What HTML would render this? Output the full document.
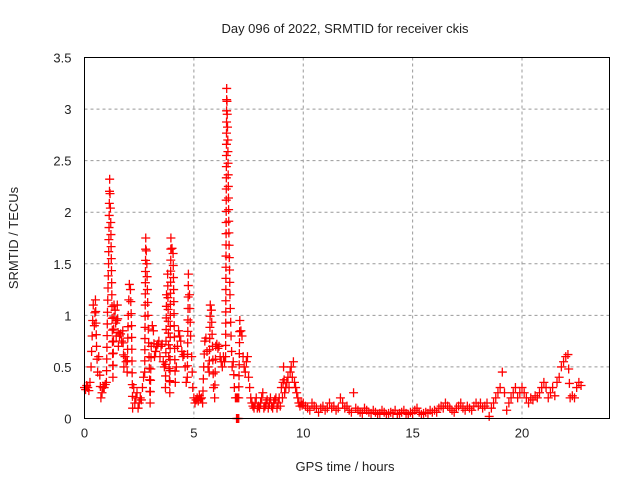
<!DOCTYPE html>
<html><head><meta charset="utf-8"><style>
body{margin:0;background:#fff;}
svg text{font-family:"Liberation Sans",sans-serif;font-size:13px;fill:#222;}
</style></head><body>
<svg id="chart" width="640" height="480" viewBox="0 0 640 480" xmlns="http://www.w3.org/2000/svg">
<rect width="640" height="480" fill="#fff"/>
<text x="345" y="33" text-anchor="middle">Day 096 of 2022, SRMTID for receiver ckis</text>
<text x="345" y="471" text-anchor="middle">GPS time / hours</text>
<text x="18" y="238" text-anchor="middle" transform="rotate(-90 18 238)">SRMTID / TECUs</text>
<g id="grid"></g><g id="ticks"></g><g id="marks"></g>
<rect x="84.5" y="57.5" width="525" height="361" fill="none" stroke="#000" stroke-width="1"/>
</svg>
<script>
const xTicks=[0,5,10,15,20];
const yTicks=[0,0.5,1,1.5,2,2.5,3,3.5];
const yTickLabels=["0","0.5","1","1.5","2","2.5","3","3.5"];
const segStarts=[0,10];
const segSteps=[0.05,0.1];
const zeroClusterTimes=[6.95,7.0,7.05];
const zeroClusterValues=[0,0,0];
const valuesEarly=[0.3,0.28,0.32,0.3,0.27,0.35,
0.5,0.8,1.1,0.9,1.15,0.7,
0.45,0.6,0.42,
0.2,0.25,0.3,
0.3,0.33,0.35,1.03,
1.5,2.32,1.9,1.2,
0.4,1.1,1.05,0.8,1.1,0.7,
0.8,0.82,0.75,0.85,
0.5,0.6,0.55,0.45,1.0,
1.3,1.25,0.9,
0.1,0.3,0.15,0.2,0.25,0.1,0.15,0.2,0.18,0.3,
0.4,0.45,1.75,1.5,1.0,0.6,0.15,
0.7,0.9,0.85,0.6,0.65,0.7,0.72,0.75,0.6,0.7,0.72,0.55,
0.5,0.3,1.2,1.4,0.6,
0.25,1.75,1.65,1.6,0.9,
0.35,0.5,0.7,0.85,0.8,0.75,
0.65,0.6,0.62,0.5,0.35,0.4,
1.4,1.2,0.8,0.6,0.3,
0.2,0.15,0.18,0.2,0.17,0.22,0.19,0.2,0.15,
0.5,0.75,0.78,0.65,0.5,0.45,1.1,1.05,0.7,0.3,0.2,
0.7,0.72,0.68,0.7,0.6,0.55,0.5,0.6,0.55,0.6,
3.2,2.7,1.8,1.2,0.8,0.5,0.55,
0.3,0.2,0.2,0.2,0.2,
0.95,0.85,0.8,0.6,0.5,0.45,0.55,0.6,0.4,
0.3,0.2,0.15,0.12,0.1,0.15,0.2,0.1,0.12,0.1,
0.15,0.2,0.25,0.1,0.12,0.15,0.18,0.1,0.15,0.2,0.12,0.1,0.15,0.18,0.2,0.1,0.15,0.2,0.12,
0.3,0.2,0.5,0.25,0.3,0.35,0.4,0.3,0.45,0.5,0.4,0.55,0.35,0.3,0.25,0.2,0.15,0.12,0.15,0.13];
const valuesLate=[0.15,0.12,0.1,0.08,0.15,0.12,0.1,0.06,0.1,0.12,0.08,0.1,0.15,0.1,0.12,0.08,0.1,0.2,0.15,0.1,
0.12,0.08,0.06,0.25,0.1,0.08,0.06,0.05,0.1,0.08,0.06,0.05,0.08,0.06,0.04,0.05,0.08,0.06,0.04,0.05,
0.06,0.05,0.08,0.04,0.05,0.06,0.08,0.05,0.04,0.06,0.05,0.08,0.1,0.06,0.04,0.05,0.06,0.05,0.08,0.06,
0.08,0.06,0.1,0.12,0.1,0.15,0.12,0.1,0.08,0.06,0.1,0.12,0.15,0.1,0.08,0.12,0.1,0.08,0.12,0.15,
0.12,0.15,0.1,0.12,0.15,0.02,0.1,0.15,0.2,0.25,0.3,0.45,0.25,0.08,0.15,0.2,0.25,0.3,0.2,0.25,
0.3,0.25,0.2,0.15,0.2,0.18,0.22,0.2,0.25,0.3,0.35,0.3,0.2,0.25,0.3,0.22,0.35,0.4,0.5,0.55,
0.6,0.62,0.2,0.22,0.2,0.3,0.35,0.32];
const NS="http://www.w3.org/2000/svg";
const X0=84.5,X1=609.5,Y0=418.5,Y1=57.5,XMAX=24,YMAX=3.5;
function xs(t){return X0+(t/XMAX)*(X1-X0);}
function ys(v){return Y0-(v/YMAX)*(Y0-Y1);}
function mk(tag,attrs,parent){const e=document.createElementNS(NS,tag);for(const k in attrs)e.setAttribute(k,attrs[k]);parent.appendChild(e);return e;}
const grid=document.getElementById('grid'),ticks=document.getElementById('ticks'),marks=document.getElementById('marks');
xTicks.forEach(t=>{
 const x=xs(t);
 if(t>0){const g=mk('line',{x1:x,x2:x,y1:Y1,y2:Y0,stroke:'#999','stroke-dasharray':'3,3'},grid);
 
 }
 const tl=mk('text',{x:x,y:Y0+19,'text-anchor':'middle'},ticks);tl.textContent=String(t);
 
 
});
yTicks.forEach((v,i)=>{
 const y=ys(v);
 if(v>0&&v<YMAX){const g=mk('line',{x1:X0,x2:X1,y1:y,y2:y,stroke:'#999','stroke-dasharray':'3,3'},grid);
 
 }
 const tl=mk('text',{x:X0-13,y:y+5,'text-anchor':'end'},ticks);tl.textContent=yTickLabels[i];
 
 
});
function cross(x,y,name){
 const p=mk('path',{d:`M${x-4.5},${y}H${x+4.5}M${x},${y-4.5}V${y+4.5}`,stroke:'#f00','stroke-width':1.3,fill:'none'},marks);
 
 
}
function plot(vals,start,step){
 let px=null,py=null;
 vals.forEach((v,i)=>{
  const x=xs(start+i*step),y=ys(v);
  if(px!==null){
   const n=Math.floor(Math.hypot(x-px,y-py)/11);
   for(let k=1;k<n;k++){cross(px+(x-px)*k/n,py+(y-py)*k/n,'srmtid-trace-marker');}
  }
  cross(x,y,'srmtid-point');
  px=x;py=y;
 });
}
plot(valuesEarly,segStarts[0],segSteps[0]);
plot(valuesLate,segStarts[1],segSteps[1]);
zeroClusterTimes.forEach((t,i)=>{cross(xs(t),ys(zeroClusterValues[i]),'srmtid-zero-point');});
</script>
</body></html>
